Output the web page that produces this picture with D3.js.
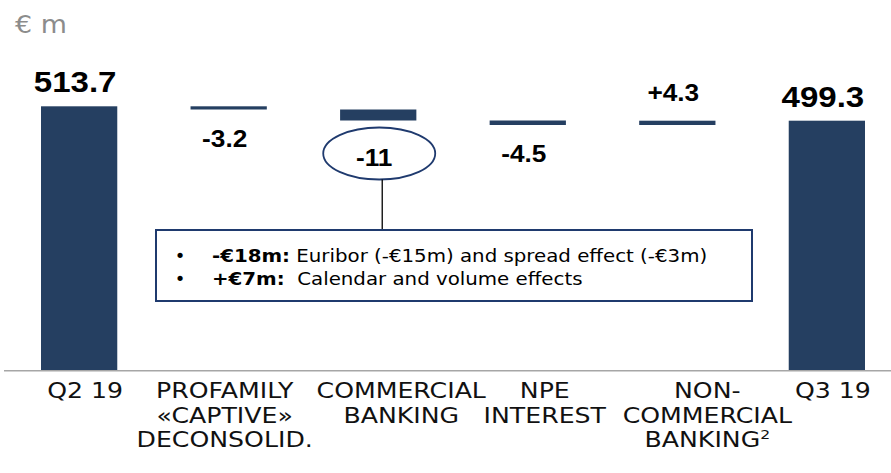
<!DOCTYPE html>
<html>
<head>
<meta charset="utf-8">
<script src="https://cdn.jsdelivr.net/npm/d3@7"></script>
<style>
  body { margin: 0; background: #fff; }
  svg { display: block; }
</style>
</head>
<body>
<div id="chart"></div>
<script>
// waterfall data
const categories = ["Q2 19", "PROFAMILY «CAPTIVE» DECONSOLID.", "COMMERCIAL BANKING", "NPE INTEREST", "NON-COMMERCIAL BANKING", "Q3 19"];
const categoryLines = [["Q2 19"], ["PROFAMILY", "«CAPTIVE»", "DECONSOLID."], ["COMMERCIAL", "BANKING"], ["NPE", "INTEREST"], ["NON-", "COMMERCIAL", "BANKING"], ["Q3 19"]];
const values = [513.7, -3.2, -11, -4.5, 4.3, 499.3];
const kinds = ["total", "delta", "delta", "delta", "delta", "total"];
const valueLabels = ["513.7", "-3.2", "-11", "-4.5", "+4.3", "499.3"];
const noteLines = [
    { bold: "-€18m:", text: " Euribor (-€15m) and spread effect (-€3m)" },
    { bold: "+€7m:", text: "  Calendar and volume effects" }
];

const width = 891, height = 473;
const navy = "#253f61", outline = "#1f3a6e";
const labelFont = "'DejaVu Sans', sans-serif";
const numFont = "'Liberation Sans', Arial, sans-serif";
const labelNudge = [6, -4, 23, 17, 30, 6];

const svg = d3.select("#chart").append("svg")
    .attr("width", width)
    .attr("height", height);

svg.append("rect").attr("width", width).attr("height", height).attr("fill", "#fff");

const xScale = d3.scaleBand().domain(categories).range([41, 865]).paddingInner(0.49).paddingOuter(0);
const yScale = d3.scaleLinear().domain([250, 514]).range([370, 106]);

// running totals
let running = 0;
const steps = values.map((v, i) => {
    let y0, y1;
    if (kinds[i] == "total") { y0 = 250; y1 = v; running = v; }
    else { y0 = running; y1 = running + v; running = y1; }
    return { cat: categories[i], v: v, lo: Math.min(y0, y1), hi: Math.max(y0, y1), kind: kinds[i], label: valueLabels[i], i: i };
});

// the source font is wider than anything installed, so text gets stretched
function stretchedText(sel, x, y, sx) {
    return sel.attr("transform", "translate(" + x + "," + y + ") scale(" + sx + ",1)");
}

svg.append("text")
    .call(stretchedText, 15, 33, 1.12)
    .attr("font-family", labelFont)
    .attr("font-size", 24)
    .attr("fill", "#8c8c8c")
    .text("€ m");

svg.selectAll(".bar")
    .data(steps)
    .enter().append("rect")
    .attr("class", "bar")
    .attr("x", d => xScale(d.cat))
    .attr("y", d => yScale(d.hi))
    .attr("width", xScale.bandwidth())
    .attr("height", d => yScale(d.lo) - yScale(d.hi))
    .attr("fill", navy);

svg.append("line")
    .attr("x1", 4).attr("x2", width)
    .attr("y1", 370.7).attr("y2", 370.7)
    .attr("stroke", "#a6a6a6")
    .attr("stroke-width", 1.6);

// value labels
const highlight = 2;
steps.forEach(d => {
    const cx = xScale(d.cat) + xScale.bandwidth() / 2 - 4;
    let y, size;
    if (d.kind == "total") { y = yScale(d.hi) - 14; size = 29; }
    else if (d.v < 0) { y = yScale(d.lo) + (d.i == highlight ? 45 : 37); size = 23; }
    else { y = yScale(d.hi) - 20; size = 23; }
    svg.append("text")
        .call(stretchedText, cx, y, 1.14)
        .attr("text-anchor", "middle")
        .attr("font-family", numFont)
        .attr("font-weight", "bold")
        .attr("font-size", size)
        .attr("fill", "#000")
        .text(d.label);
});

// ellipse + callout
const hl = steps[highlight];
const ex = xScale(hl.cat) + xScale.bandwidth() / 2 + 1;
const ey = yScale(hl.lo) + 33;
svg.append("ellipse")
    .attr("cx", ex).attr("cy", ey)
    .attr("rx", 56).attr("ry", 26)
    .attr("fill", "none")
    .attr("stroke", outline)
    .attr("stroke-width", 1.8);

const box = { x: 156, y: 230, w: 596, h: 71 };
svg.append("line")
    .attr("x1", ex + 3).attr("x2", ex + 3)
    .attr("y1", ey + 26).attr("y2", box.y)
    .attr("stroke", "#000")
    .attr("stroke-width", 1.3);

svg.append("rect")
    .attr("x", box.x).attr("y", box.y)
    .attr("width", box.w).attr("height", box.h)
    .attr("fill", "#fff")
    .attr("stroke", outline)
    .attr("stroke-width", 2);

noteLines.forEach((n, i) => {
    const by = 262 + i * 23;
    svg.append("text")
        .attr("x", 180).attr("y", by)
        .attr("text-anchor", "middle")
        .attr("font-family", labelFont)
        .attr("font-size", 18)
        .text("•");
    const t = svg.append("text")
        .call(stretchedText, 212, by, 1.1)
        .attr("font-family", labelFont)
        .attr("font-size", 18)
        .attr("fill", "#000");
    t.append("tspan").attr("font-weight", "bold").text(n.bold);
    t.append("tspan").style("white-space", "pre").text(n.text);
});

// category labels
categoryLines.forEach((lines, i) => {
    const cx = xScale(categories[i]) + xScale.bandwidth() / 2 + labelNudge[i];
    lines.forEach((line, j) => {
        const t = svg.append("text")
            .call(stretchedText, cx, 398 + j * 24.5, 1.2)
            .attr("text-anchor", "middle")
            .attr("font-family", labelFont)
            .attr("font-size", 21)
            .attr("fill", "#111");
        t.append("tspan").text(line);
        if (i == 4 && j == 2) {
            t.append("tspan").attr("dy", -8).attr("font-size", 13).text("2");
        }
    });
});
</script>
</body>
</html>
